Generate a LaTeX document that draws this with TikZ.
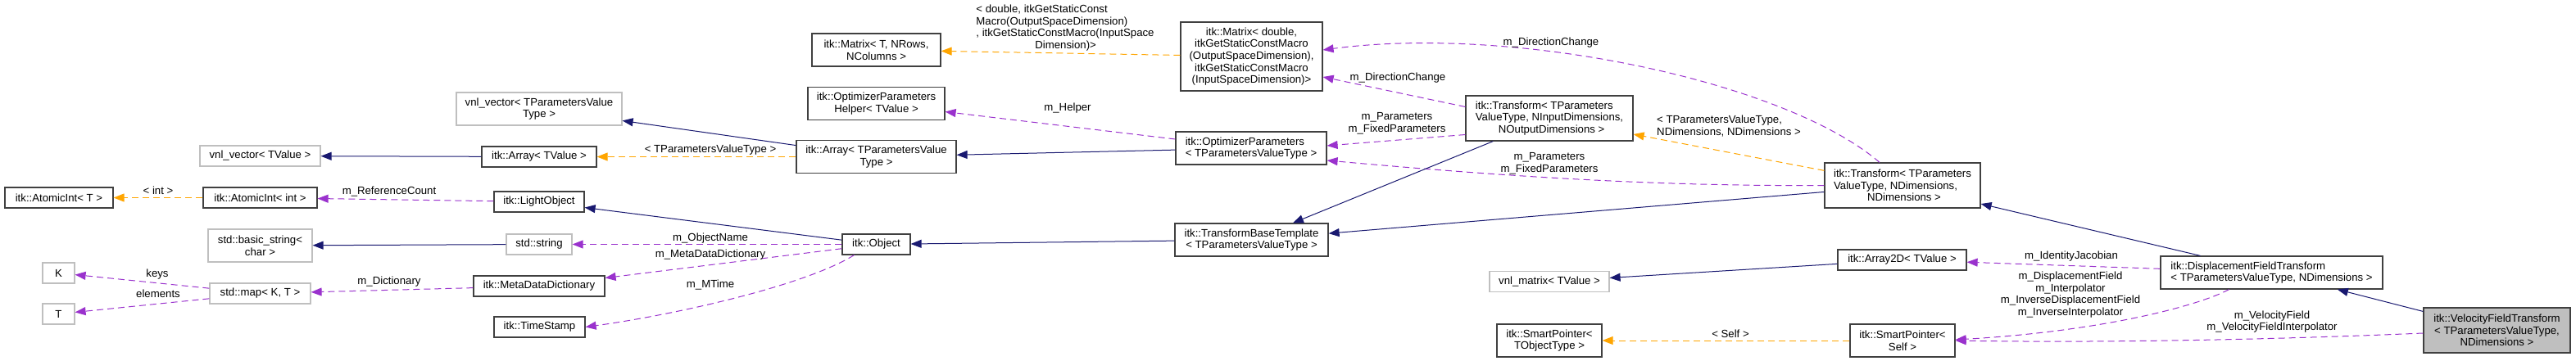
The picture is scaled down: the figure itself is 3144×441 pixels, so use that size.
\documentclass[tikz,border=0pt]{standalone}
\usepackage{fontspec}
\setmainfont{Liberation Sans}
\usetikzlibrary{arrows.meta}
\definecolor{edgenavy}{HTML}{191970}
\definecolor{edgepurple}{HTML}{9A32CD}
\definecolor{edgeorange}{HTML}{FFA500}
\definecolor{boxgray}{HTML}{BFBFBF}
\newcommand{\doxfont}{\fontsize{13.2}{14.7}\selectfont}
\tikzset{sz/.style 2 args={minimum width=#1pt, minimum height=#2pt}}

\begin{document}
\begin{tikzpicture}[x=1pt, y=-1pt,
    cls/.style={draw=black!75, fill=white, line width=1.2pt, inner sep=0pt, align=center, font=\doxfont},
    ext/.style={cls, draw=boxgray},
    lbl/.style={inner sep=0pt, align=center, font=\doxfont},
    inh/.style={draw=edgenavy, line width=1pt, -{Triangle[length=13pt,width=10pt]}},
    mem/.style={draw=edgepurple, line width=1pt, dash pattern=on 8pt off 5pt, -{Triangle[length=13pt,width=10pt]}},
    tpl/.style={draw=edgeorange, line width=1pt, dash pattern=on 8pt off 5pt, -{Triangle[length=13pt,width=10pt]}}]
    \useasboundingbox (0,0) rectangle (3144,441);

    \node[ext, sz={147}{25}] (vecTV) at (317.5,190.5) {vnl\_vector< TValue >};
    \node[cls, sz={132}{25}] (atomT) at (72,241.5) {itk::AtomicInt< T >};
    \node[cls, sz={139}{25}] (atomInt) at (317.5,241.5) {itk::AtomicInt< int >};
    \node[ext, sz={127}{40}] (bstr) at (317.5,300) {std::basic\_string<\\char >};
    \node[ext, sz={39}{25}] (K) at (71.5,333.5) {K};
    \node[ext, sz={39}{25}] (T) at (71.5,383.5) {T};
    \node[ext, sz={123}{25}] (map) at (317.5,358.5) {std::map< K, T >};
    \node[ext, sz={202}{40}] (vecPV) at (658,133) {vnl\_vector< TParametersValue\\Type >};
    \node[cls, sz={140}{25}] (arrTV) at (658,191.5) {itk::Array< TValue >};
    \node[cls, sz={110}{25}] (light) at (658,246.5) {itk::LightObject};
    \node[ext, sz={80}{25}] (str) at (658,298.5) {std::string};
    \node[cls, sz={160}{25}] (mdd) at (658,349.5) {itk::MetaDataDictionary};
    \node[cls, sz={111}{25}] (tstamp) at (658.5,399.5) {itk::TimeStamp};
    \node[cls, sz={157}{40}] (matT) at (1069.5,61) {itk::Matrix< T, NRows,\\NColumns >};
    \node[cls, sz={167}{40}] (helper) at (1069.5,126.5) {itk::OptimizerParameters\\Helper< TValue >};
    \node[cls, sz={195}{40}] (arrPV) at (1069.5,191.5) {itk::Array< TParametersValue\\Type >};
    \node[cls, sz={83}{25}] (object) at (1069.5,298.5) {itk::Object};
    \node[cls, sz={173}{84}] (matD) at (1527.5,69) {itk::Matrix< double,\\itkGetStaticConstMacro\\(OutputSpaceDimension),\\itkGetStaticConstMacro\\(InputSpaceDimension)>};
    \node[cls, sz={184}{40}, align=left] (optP) at (1527,181) {itk::OptimizerParameters\\< TParametersValueType >};
    \node[cls, sz={187}{40}] (tbase) at (1527.5,293) {itk::TransformBaseTemplate\\< TParametersValueType >};
    \node[cls, sz={204}{55}, align=left] (trIO) at (1891,144.5) {itk::Transform< TParameters\\ValueType, NInputDimensions,\\\hspace*{28pt}NOutputDimensions >};
    \node[ext, sz={146}{25}] (vnlM) at (1891,344) {vnl\_matrix< TValue >};
    \node[cls, sz={128}{40}] (spT) at (1891,416) {itk::SmartPointer<\\TObjectType >};
    \node[cls, sz={190}{55}, align=left] (trND) at (2322,226.5) {itk::Transform< TParameters\\ValueType, NDimensions,\\\hspace*{41pt}NDimensions >};
    \node[cls, sz={157}{25}] (arr2D) at (2321.5,317.5) {itk::Array2D< TValue >};
    \node[cls, sz={128}{40}] (spS) at (2322,416) {itk::SmartPointer<\\Self >};
    \node[cls, sz={271}{40}, align=left] (dft) at (2772.5,333) {itk::DisplacementFieldTransform\\< TParametersValueType, NDimensions >};
    \node[cls, sz={179}{55}, fill=boxgray] (velo) at (3047.5,403.5) {itk::VelocityFieldTransform\\< TParametersValueType,\\NDimensions >};

    \draw[inh] (arrTV) -- (vecTV);
    \draw[inh] (arrPV) -- (vecPV);
    \draw[tpl] (arrPV) -- (arrTV);
    \draw[mem] (optP) -- (helper);
    \draw[inh] (optP) -- (arrPV);
    \draw[tpl] (matD) -- (matT);
    \draw[mem] ([yshift=14pt]trIO.west) -- ([yshift=-25pt]matD.east);
    \draw[mem] ([xshift=-28pt]trND.north) .. controls (2180,100) and (1850,30) .. ([yshift=8pt]matD.east);
    \draw[mem] ([yshift=-20pt]trIO.west) -- ([yshift=3pt]optP.east);
    \draw[mem] (trND.west) .. controls (2000,228) and (1800,212) .. ([yshift=-15pt]optP.east);
    \draw[inh] (trIO) -- (tbase);
    \draw[inh] (trND) -- (tbase);
    \draw[tpl] (trND) -- (trIO);
    \draw[inh] (tbase) -- (object);
    \draw[inh] (object) -- (light);
    \draw[mem] (object) -- (str);
    \draw[mem] (object) -- (mdd);
    \draw[mem] ([xshift=-27pt]object.south) .. controls (980,350) and (820,385) .. (tstamp.east);
    \draw[mem] (light) -- (atomInt);
    \draw[tpl] (atomInt) -- (atomT);
    \draw[inh] (str) -- (bstr);
    \draw[mem] (mdd) -- (map);
    \draw[mem] (map) -- (K);
    \draw[mem] (map) -- (T);
    \draw[inh] (dft) -- (trND);
    \draw[mem] (dft) -- (arr2D);
    \draw[mem] ([xshift=-52pt]dft.south) .. controls (2680,375) and (2560,405) .. ([yshift=1pt]spS.east);
    \draw[mem] ([yshift=-3.5pt]velo.west) .. controls (2700,418) and (2500,418) .. (spS.east);
    \draw[inh] (velo) -- (dft);
    \draw[inh] (arr2D) -- (vnlM);
    \draw[tpl] (spS) -- (spT);

    \node[lbl] (lInt) at (193,233) {< int >};
    \node[lbl] (lRef) at (475,234) {m\_ReferenceCount};
    \node[lbl] (lKeys) at (192,335) {keys};
    \node[lbl] (lElem) at (193,359) {elements};
    \node[lbl] (lDict) at (475,344) {m\_Dictionary};
    \node[lbl] (lArr) at (867,183) {< TParametersValueType >};
    \node[lbl] (lName) at (867,291) {m\_ObjectName};
    \node[lbl] (lMdd) at (867,311) {m\_MetaDataDictionary};
    \node[lbl] (lTime) at (867,348) {m\_MTime};
    \node[lbl, align=left] (lMat) at (1300,34) {< double, itkGetStaticConst\\Macro(OutputSpaceDimension)\\, itkGetStaticConstMacro(InputSpace\\\hspace*{72pt}Dimension)>};
    \node[lbl] (lHelp) at (1303,132) {m\_Helper};
    \node[lbl] (lDir1) at (1893,52) {m\_DirectionChange};
    \node[lbl] (lDir2) at (1706,95) {m\_DirectionChange};
    \node[lbl] (lPar1) at (1705,150.5) {m\_Parameters\\m\_FixedParameters};
    \node[lbl] (lPar2) at (1891,199.5) {m\_Parameters\\m\_FixedParameters};
    \node[lbl, align=left, anchor=west] (lTr) at (2022,154) {< TParametersValueType,\\NDimensions, NDimensions >};
    \node[lbl] (lJac) at (2528,313) {m\_IdentityJacobian};
    \node[lbl] (lDisp) at (2527,360) {m\_DisplacementField\\m\_Interpolator\\m\_InverseDisplacementField\\m\_InverseInterpolator};
    \node[lbl] (lVel) at (2773,393) {m\_VelocityField\\m\_VelocityFieldInterpolator};
    \node[lbl] (lSelf) at (2112,408) {< Self >};
\end{tikzpicture}
\end{document}
